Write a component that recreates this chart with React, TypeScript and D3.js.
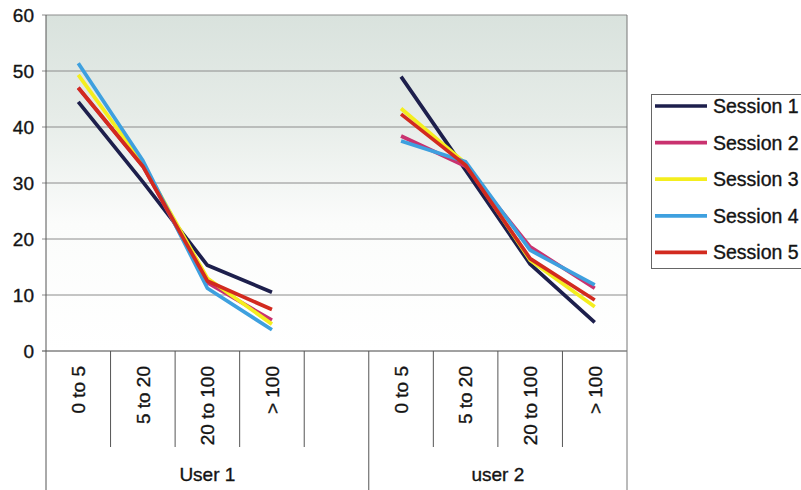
import React from "react";
import * as d3 from "d3";

const categories = ["0 to 5", "5 to 20", "20 to 100", "> 100", "", "0 to 5", "5 to 20", "20 to 100", "> 100"];
const groups = [
  { label: "User 1", from: 0, to: 5 },
  { label: "user 2", from: 5, to: 9 },
];
const seriesNames = ["Session 1", "Session 2", "Session 3", "Session 4", "Session 5"];
const seriesColors = ["#1d1f4c", "#c9326f", "#f4ee1e", "#3ea0df", "#d22a1f"];

const session1 = [44.5, 30.2, 15.3, 10.5, null, 49.0, 32.3, 15.5, 5.1];
const session2 = [47.0, 33.0, 12.2, 5.5, null, 38.4, 33.0, 18.6, 11.2];
const session3 = [49.3, 33.4, 13.0, 4.8, null, 43.3, 33.5, 16.2, 7.9];
const session4 = [51.4, 34.0, 11.2, 3.8, null, 37.5, 33.8, 18.0, 11.8];
const session5 = [47.0, 33.0, 12.5, 7.4, null, 42.3, 33.2, 16.5, 9.1];
const seriesValues = [session1, session2, session3, session4, session5];

const yTicks = [0, 10, 20, 30, 40, 50, 60];

const W = 801;
const H = 490;
const plot = { left: 46, right: 627, top: 15, bottom: 351 };
const FONT = "'Liberation Sans', Arial, sans-serif";
const textStyle = {
  fontFamily: FONT,
  fontSize: 19,
  fill: "#141414",
  stroke: "#141414",
  strokeWidth: 0.35,
};

export default function App() {
  const x = d3
    .scaleBand<number>()
    .domain(categories.map((_, i) => i))
    .range([plot.left, plot.right])
    .padding(0);
  const y = d3.scaleLinear().domain([0, 60]).range([plot.bottom, plot.top]);
  const cx = (i: number) => (x(i) as number) + x.bandwidth() / 2;

  const line = d3
    .line<number | null>()
    .defined((d) => d !== null)
    .x((_, i) => cx(i))
    .y((d) => y(d as number));

  const boundaries = d3.range(1, categories.length).map((i) => x(i) as number);
  const groupEdges = new Set(groups.map((g) => g.from).filter((f) => f > 0));

  const legendRows = seriesNames.map((_, i) => 106 + i * 36.6);

  return (
    <div style={{ position: "absolute", left: 0, top: 0 }}>
      <svg width={W} height={H} style={{ display: "block", background: "#fff" }}>
        <defs>
          <linearGradient id="plotBg" x1="0" y1="0" x2="0" y2="1">
            <stop offset="0" stopColor="#d9e2dd" />
            <stop offset="0.3" stopColor="#e6ece8" />
            <stop offset="0.62" stopColor="#fbfcfb" />
            <stop offset="1" stopColor="#ffffff" />
          </linearGradient>
        </defs>
        <rect
          x={plot.left}
          y={plot.top}
          width={plot.right - plot.left}
          height={plot.bottom - plot.top}
          fill="url(#plotBg)"
        />
        {/* horizontal gridlines */}
        {yTicks.map((t) => (
          <line
            key={"g" + t}
            x1={plot.left - 4}
            x2={plot.right}
            y1={y(t)}
            y2={y(t)}
            stroke={t === 0 ? "#444" : "#8c8c8c"}
            strokeWidth={1}
          />
        ))}
        {/* y labels */}
        {yTicks.map((t) => (
          <text key={"l" + t} x={34} y={y(t)} dy="0.36em" textAnchor="end" style={textStyle}>
            {t}
          </text>
        ))}
        {/* frame lines */}
        <line x1={plot.left} x2={plot.left} y1={plot.top} y2={H} stroke="#555" strokeWidth={1} />
        <line x1={plot.right} x2={plot.right} y1={plot.top} y2={H} stroke="#777" strokeWidth={1} />
        {boundaries.map((bx, i) => (
          <line
            key={"b" + i}
            x1={bx}
            x2={bx}
            y1={plot.bottom}
            y2={groupEdges.has(i + 1) ? H : 447}
            stroke="#555"
            strokeWidth={1}
          />
        ))}
        {/* series */}
        {seriesValues.map((vals, s) => (
          <path
            key={"s" + s}
            d={line(vals) || ""}
            fill="none"
            stroke={seriesColors[s]}
            strokeWidth={3.7}
            strokeLinejoin="round"
          />
        ))}
        {/* category labels */}
        {categories.map((c, i) =>
          c ? (
            <text
              key={"c" + i}
              transform={`translate(${cx(i)},366) rotate(-90)`}
              dy="0.36em"
              textAnchor="end"
              style={textStyle}
            >
              {c}
            </text>
          ) : null
        )}
        {/* group labels */}
        {groups.map((g) => {
          const gx0 = x(g.from) as number;
          const gx1 = g.to >= categories.length ? plot.right : (x(g.to) as number);
          return (
            <text key={g.label} x={(gx0 + gx1) / 2} y={481} textAnchor="middle" style={textStyle}>
              {g.label}
            </text>
          );
        })}
        {/* legend */}
        <rect x={651.5} y={94.5} width={160} height={174} fill="#fff" stroke="#666" strokeWidth={1} />
        {seriesNames.map((n, i) => (
          <g key={n}>
            <line x1={655} x2={707} y1={legendRows[i]} y2={legendRows[i]} stroke={seriesColors[i]} strokeWidth={3.7} />
            <text x={713} y={legendRows[i]} dy="0.36em" style={{ ...textStyle, fontSize: 19.5 }}>
              {n}
            </text>
          </g>
        ))}
      </svg>
    </div>
  );
}
